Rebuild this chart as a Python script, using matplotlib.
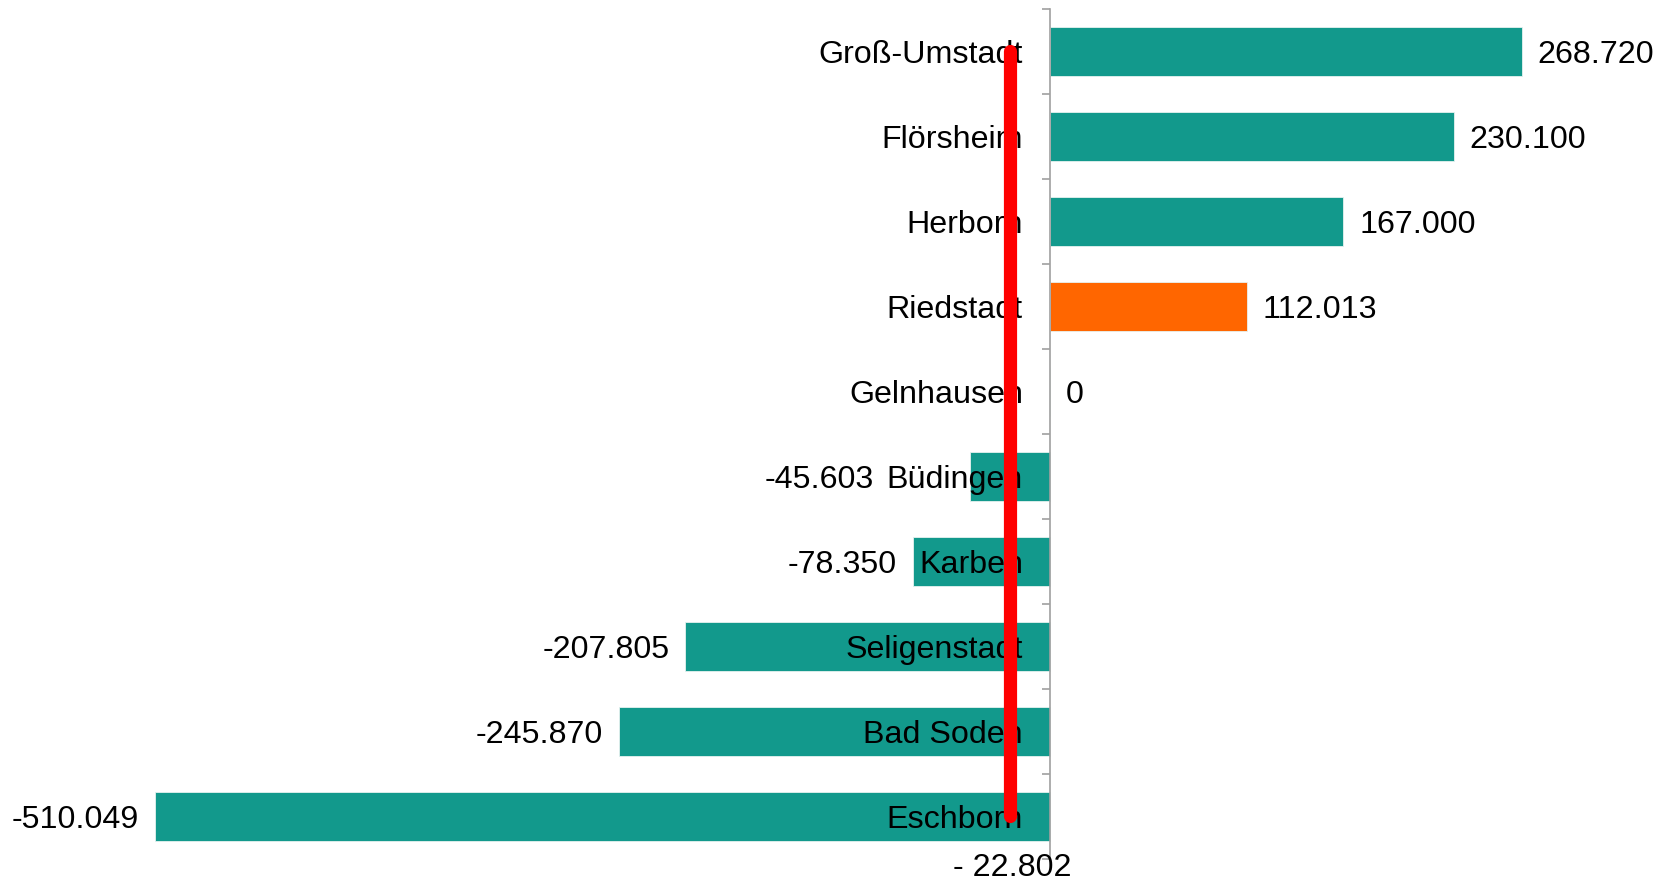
import matplotlib
matplotlib.use("Agg")
import matplotlib.pyplot as plt
from matplotlib.ticker import FixedLocator

plt.rcParams['font.family'] = ['Liberation Sans', 'DejaVu Sans']

# Municipalities, top to bottom, and their values
towns = ["Groß-Umstadt", "Flörsheim", "Herborn", "Riedstadt", "Gelnhausen",
         "Büdingen", "Karben", "Seligenstadt", "Bad Soden", "Eschborn"]
values = [268720, 230100, 167000, 112013, 0,
          -45603, -78350, -207805, -245870, -510049]
highlight = "Riedstadt"
reference_value = -22802

teal = "#12998C"
orange = "#FF6600"
red = "#FF0000"
axis_gray = "#A0A0A0"
fs = 23.2


def fmt(v):
    s = f"{abs(v):,}".replace(",", ".")
    return ("-" if v < 0 else "") + s


fig = plt.figure(figsize=(16.66, 8.80), dpi=100)
ax = fig.add_axes([0.0, 0.0239, 1.0, 0.9659])

ypos = list(range(len(towns)))
colors = [orange if t == highlight else teal for t in towns]
ax.barh(ypos, values, height=0.57, color=colors, edgecolor="#E6F2F0",
        linewidth=0.6, zorder=1)

# x scale: px-per-unit chosen so the zero line sits near x=1050
ppu = 1.7547 / 1000.0
ax.set_xlim(-1050 / ppu, (1666 - 1050) / ppu)
ax.set_ylim(len(towns) - 0.5, -0.5)

# axis styling
for s in ["top", "right", "bottom"]:
    ax.spines[s].set_visible(False)
ax.spines["left"].set_position(("data", 0))
ax.spines["left"].set_color(axis_gray)
ax.spines["left"].set_linewidth(1.2)
ax.set_xticks([])
ax.set_yticks(ypos)
ax.set_yticklabels(towns, fontsize=fs)
ax.yaxis.set_minor_locator(FixedLocator([i - 0.5 for i in range(len(towns) + 1)]))
ax.tick_params(axis="y", which="major", length=0, pad=19.5)
ax.tick_params(axis="y", which="minor", length=6, width=1.2, color=axis_gray)
for lbl in ax.get_yticklabels():
    lbl.set_zorder(3)

fig.canvas.draw()
renderer = fig.canvas.get_renderer()
inv = ax.transData.inverted()

# value labels beside each bar end; a negative label that would run into
# the category name is pushed left of that name
gap_px = 16
off = gap_px / ppu
for y, v, lbl in zip(ypos, values, ax.get_yticklabels()):
    if v < 0:
        x = v - off
        name_left = lbl.get_window_extent(renderer).x0
        name_left_data = inv.transform((name_left, 0))[0]
        if x > name_left_data - off and v > name_left_data:
            x = name_left_data - 13 / ppu
        ax.text(x, y, fmt(v), ha="right", va="center_baseline", fontsize=fs, color="black")
    else:
        ax.text(v + off, y, fmt(v), ha="left", va="center_baseline", fontsize=fs, color="black")

# reference line
ax.plot([reference_value, reference_value], [0, len(towns) - 1], color=red,
        linewidth=9.5, solid_capstyle="round", zorder=2)
ax.text(reference_value + 2 / ppu, len(towns) - 0.5 + 0.07, "- " + fmt(-reference_value),
        ha="center", va="center_baseline", fontsize=fs, color="black", clip_on=False)

fig.savefig("out.png", dpi=100, facecolor="white")
